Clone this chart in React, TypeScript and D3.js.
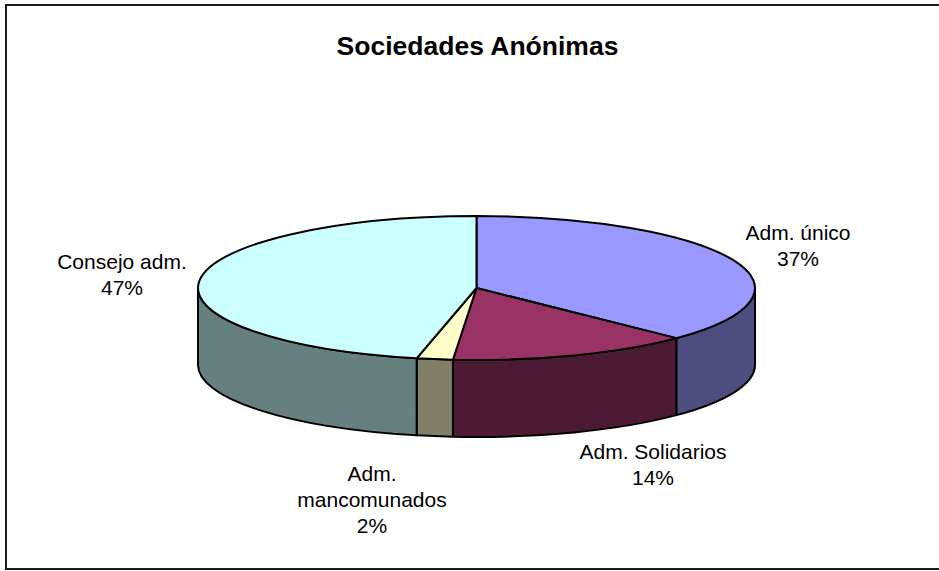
import * as d3 from 'd3'
import { useEffect, useRef } from 'react'

const categories = ['Adm. único', 'Adm. Solidarios', 'Adm. mancomunados', 'Consejo adm.']
const values = [37.3, 14.1, 2.1, 46.6]
const labelLines = [['Adm. único'], ['Adm. Solidarios'], ['Adm.', 'mancomunados'], ['Consejo adm.']]

const TOP_FILL = ['#9999FF', '#993366', '#FFFFCC', '#CCFFFF']
const SIDE_FILL = ['#4D4D80', '#4D1A33', '#808066', '#668080']
// label anchor (x, first baseline) per slice
const LABEL_POS: [number, number][] = [
  [798, 240],
  [653, 459],
  [372, 481],
  [122, 269],
]

const W = 939
const H = 571

export default function App() {
  const ref = useRef<SVGSVGElement | null>(null)

  useEffect(() => {
    const svgEl = ref.current
    if (!svgEl) return
    const svg = d3.select(svgEl)
    svg.selectAll('*').remove()

    const cx = 476.5
    const cy = 288
    const rx = 278.5
    const ry = 72
    const depth = 77
    const font = 'Arial, "Liberation Sans", sans-serif'

    svg
      .append('rect')
      .attr('x', 6)
      .attr('y', 5)
      .attr('width', W + 10)
      .attr('height', 564)
      .attr('fill', '#fff')
      .attr('stroke', '#1a1a1a')
      .attr('stroke-width', 2)

    svg
      .append('text')
      .attr('x', cx + 1)
      .attr('y', 55)
      .attr('text-anchor', 'middle')
      .attr('font-family', font)
      .attr('font-weight', 'bold')
      .attr('font-size', 26.5)
      .text('Sociedades Anónimas')

    const pie = d3.pie<number>().sort(null).startAngle(0).endAngle(2 * Math.PI)
    const arcs = pie(values)
    const px = (a: number) => cx + rx * Math.sin(a)
    const py = (a: number) => cy - ry * Math.cos(a)

    const gSide = svg.append('g')
    const gTop = svg.append('g')
    const gText = svg.append('g')

    // front walls (only the half facing the viewer)
    arcs.forEach((d, i) => {
      const a0 = Math.max(d.startAngle, Math.PI / 2)
      const a1 = Math.min(d.endAngle, (3 * Math.PI) / 2)
      if (a1 <= a0) return
      const path =
        `M${px(a0)},${py(a0)}` +
        `A${rx},${ry} 0 0 1 ${px(a1)},${py(a1)}` +
        `L${px(a1)},${py(a1) + depth}` +
        `A${rx},${ry} 0 0 0 ${px(a0)},${py(a0) + depth}Z`
      gSide
        .append('path')
        .attr('d', path)
        .attr('fill', SIDE_FILL[i])
        .attr('stroke', '#000')
        .attr('stroke-width', 2)
        .attr('stroke-linejoin', 'round')
    })

    // top face
    arcs.forEach((d, i) => {
      const large = d.endAngle - d.startAngle > Math.PI ? 1 : 0
      const path =
        `M${cx},${cy}` +
        `L${px(d.startAngle)},${py(d.startAngle)}` +
        `A${rx},${ry} 0 ${large} 1 ${px(d.endAngle)},${py(d.endAngle)}Z`
      gTop
        .append('path')
        .attr('d', path)
        .attr('fill', TOP_FILL[i])
        .attr('stroke', '#000')
        .attr('stroke-width', 2)
        .attr('stroke-linejoin', 'round')
    })

    const total = d3.sum(values)
    arcs.forEach((d, i) => {
      const [lx, ly] = LABEL_POS[i]
      const lines = [...labelLines[i], `${Math.round((values[i] / total) * 100)}%`]
      lines.forEach((t, j) => {
        gText
          .append('text')
          .attr('x', lx)
          .attr('y', ly + j * 26)
          .attr('text-anchor', 'middle')
          .attr('font-family', font)
          .attr('font-size', 21)
          .attr('fill', '#000')
          .text(t)
      })
    })
  }, [])

  return (
    <svg
      ref={ref}
      width={W}
      height={H}
      aria-label={categories.join(', ')}
      style={{ position: 'absolute', left: 0, top: 0, background: '#fff' }}
    />
  )
}
